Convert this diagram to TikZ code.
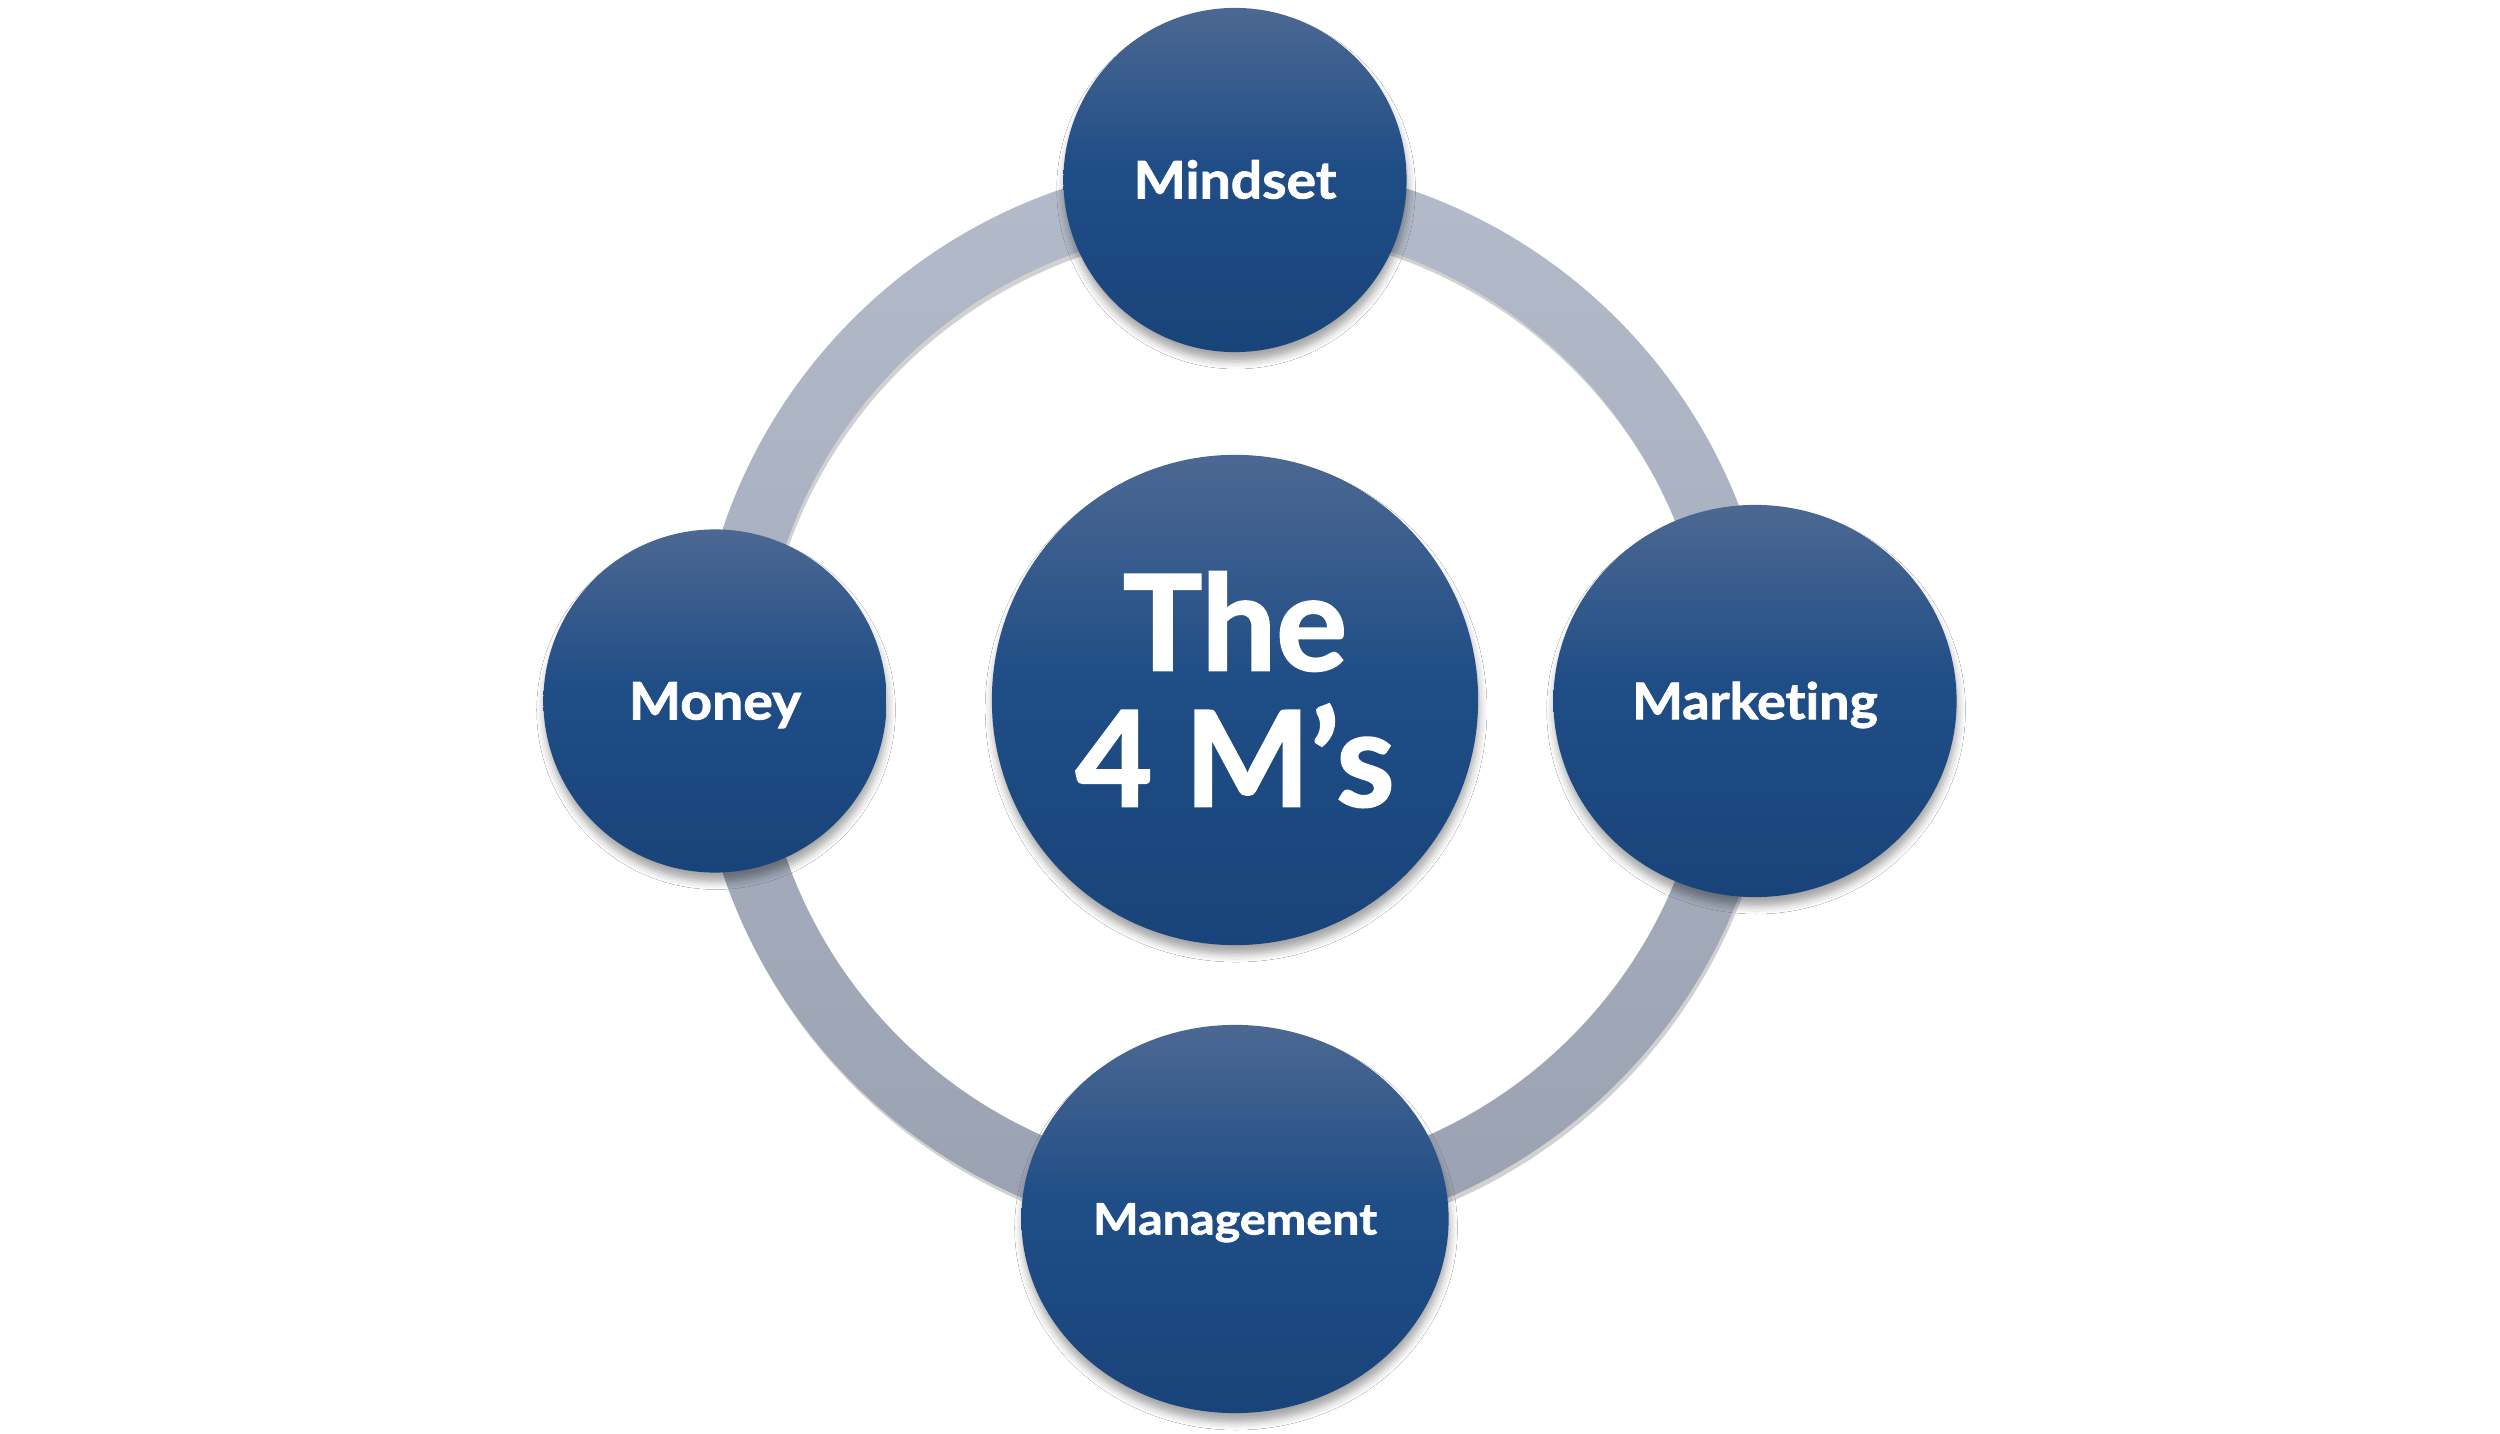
\documentclass[tikz,border=0pt]{standalone}
\usepackage{fontspec}
\setmainfont{Lato}[Ligatures={NoCommon,NoContextual}, BoldFeatures={FakeBold=1.6}]
\usetikzlibrary{shapes.geometric,shadows.blur}
\definecolor{btop}{HTML}{4C6892}
\definecolor{bmid}{HTML}{1F4D86}
\definecolor{bbot}{HTML}{19447A}
\definecolor{rtop}{HTML}{B3BBCA}
\definecolor{rbot}{HTML}{9AA2B2}
\pgfdeclareverticalshading{ballshade}{100bp}{color(0bp)=(bbot); color(25bp)=(bbot); color(52bp)=(bmid); color(75bp)=(btop); color(100bp)=(btop)}
\tikzset{
  ball/.style={ellipse, inner sep=0pt, shading=ballshade,
    text=white, align=center, text depth=0pt,
    blur shadow={shadow xshift=0.3pt, shadow yshift=-2.6pt, shadow blur radius=2.2pt, shadow opacity=35}},
}
\begin{document}
\begin{tikzpicture}[x=0.01cm,y=-0.01cm]
\useasboundingbox[fill=white] (0,0) rectangle (2500,1434);
\coordinate (c) at (1235,701);
% ring shadow and ring
\draw[line width=0.64cm, black, opacity=0.18] ([xshift=0.02cm,yshift=-0.05cm]c) circle[radius=5.075cm];
\shade[top color=rtop, bottom color=rbot, even odd rule] (c) circle[radius=5.40cm] (c) circle[radius=4.75cm];
% satellites
\node[ball, minimum width=3.43cm, minimum height=3.44cm, text height=10.5pt,
  font=\bfseries\fontsize{14.7}{17}\selectfont\addfontfeatures{FakeStretch=1.07}] (mindset) at (1235,180) {Mindset};
\node[ball, minimum width=3.43cm, minimum height=3.43cm, text height=10.5pt,
  font=\bfseries\fontsize{14.7}{17}\selectfont\addfontfeatures{FakeStretch=1.07}] (money) at (715,701) {Money};
\node[ball, minimum width=4.03cm, minimum height=3.92cm, text height=10.3pt,
  font=\bfseries\fontsize{14.3}{17}\selectfont\addfontfeatures{FakeStretch=1.07}] (marketing) at (1755,701) {Marketing};
\node[ball, minimum width=4.27cm, minimum height=3.88cm, text height=8.8pt,
  font=\bfseries\fontsize{12.3}{15}\selectfont\addfontfeatures{FakeStretch=1.12}] (management) at (1235,1219) {Management};
% centre
\node[ball, minimum width=4.86cm, minimum height=4.90cm, text depth=6.2pt,
  font=\bfseries\fontsize{37.7}{38.7}\selectfont] (core) at (1235,700) {The\\4 M’s};
\end{tikzpicture}
\end{document}
